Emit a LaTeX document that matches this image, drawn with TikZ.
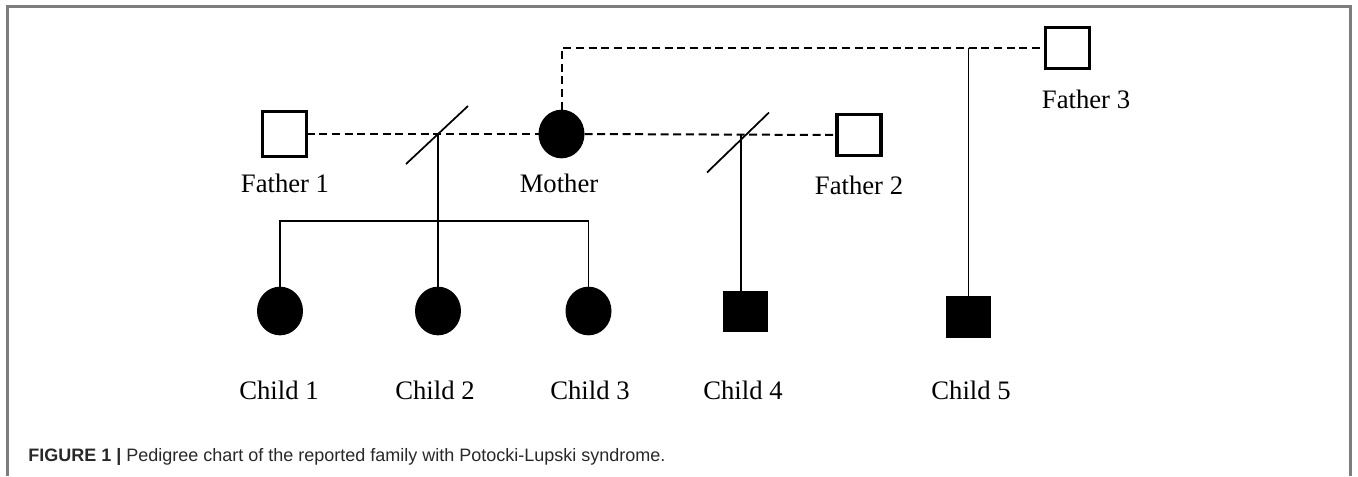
\documentclass[tikz,border=0pt]{standalone}
\usepackage{fontspec}
\setmainfont{Liberation Serif}
\newfontfamily\capfont{Liberation Sans}
\usepackage{tikz}
\usetikzlibrary{shapes.geometric,calc,positioning}
\definecolor{framecolor}{RGB}{125,125,125}
\definecolor{captioncolor}{RGB}{40,40,40}
\tikzstyle{person}=[inner sep=0pt,outer sep=0pt]
\tikzstyle{male}=[person,rectangle,draw=black,line width=2.3pt,minimum width=33pt,minimum height=31pt]
\tikzstyle{affected male}=[person,rectangle,fill=black,minimum width=34pt,minimum height=31pt]
\tikzstyle{affected female}=[person,ellipse,fill=black,minimum width=34.5pt,minimum height=36.5pt]
\tikzstyle{pedlabel}=[font=\fontsize{20}{24}\selectfont]
\tikzstyle{mating}=[dash pattern=on 6pt off 3.5pt,line width=1.5pt]
\tikzstyle{descent}=[line width=1.3pt]
\tikzstyle{divorce}=[line width=1.3pt]

\begin{document}
\begin{tikzpicture}[x=0.75pt,y=-0.75pt]
\useasboundingbox (0,0) rectangle (1358,476);
% frame round the figure
\draw[framecolor,line width=1.6pt] (7.5,476) -- (7.5,6.5) -- (1350.5,6.5) -- (1350.5,476);

% parents
\node[male,minimum height=34pt] (F1) at (284.5,134) {};
\node[affected female] (M) at (561.5,134) {};
\node[male] (F2) at (859,135) {};
\node[male] (F3) at (1067.5,48) {};

\node[pedlabel] (F1-lab) at (285,183) {Father 1};
\node[pedlabel] (M-lab) at (559,183) {Mother};
\node[pedlabel] (F2-lab) at (859,185) {Father 2};
\node[pedlabel] (F3-lab) at (1086,99) {Father 3};

% children
\foreach \i/\x in {1/280,2/438,3/588.5}
    \node[affected female] (C-\i) at (\x,311) {};
\node[affected male] (C-4) at (745.5,311.5) {};
\node[affected male] (C-5) at (968.5,317) {};

\foreach \i/\x in {1/279,2/435,3/590,4/743,5/971}
    \node[pedlabel] (C-\i-lab) at (\x,390) {Child \i};

% matings
\coordinate (S1) at (438,134);
\coordinate (S2) at (741,134.5);
\coordinate (Sib) at (438,221);

\draw[mating] (F1.east) -- (M.west);
\draw[mating] (M.east) -- (F2.west);
\draw[mating] (M.north) |- (F3.west);

\draw[divorce] ($(S1)+(-32,30)$) -- ($(S1)+(30,-28)$);
\draw[divorce] ($(S2)+(-34,38)$) -- ($(S2)+(28,-22)$);

% lines of descent
\draw[descent] (S1) -- (Sib);
\draw[descent] (C-1.north) |- (Sib) -| (C-3.north);
\draw[descent] (Sib) -- (C-2.north);
\draw[descent] (S2) -- (S2 |- C-4.north);
\draw[descent] (C-5.north) -- (C-5.north |- F3.west);

% caption
\node[anchor=west,inner sep=0pt,text=captioncolor,font=\capfont\fontsize{13.5}{16}\selectfont] (cap) at (28,457)
    {\textbf{FIGURE 1 |} Pedigree chart of the reported family with Potocki-Lupski syndrome.};
\end{tikzpicture}
\end{document}
